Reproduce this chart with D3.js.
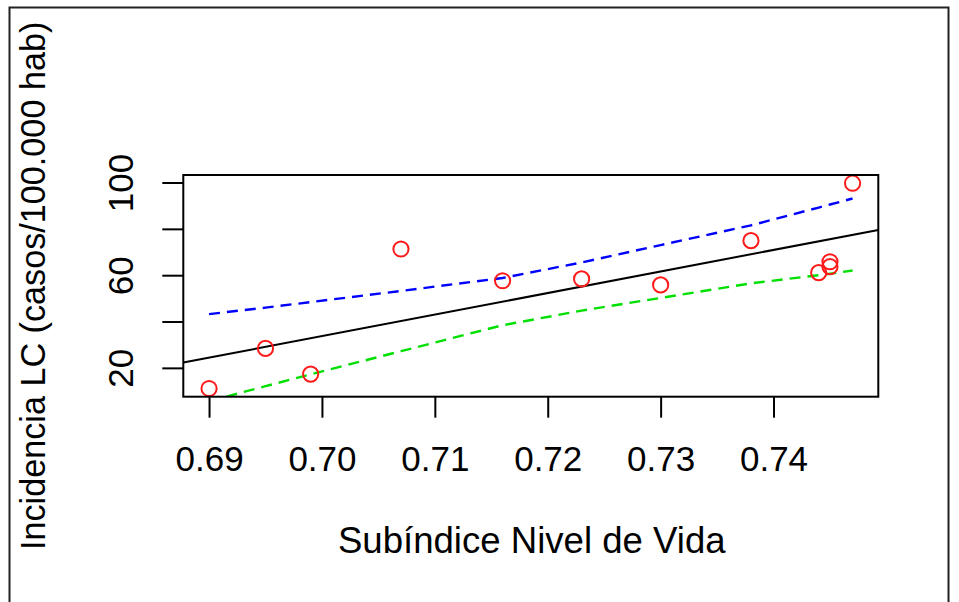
<!DOCTYPE html>
<html>
<head>
<meta charset="utf-8">
<script src="https://cdn.jsdelivr.net/npm/d3@7"></script>
<style>
  body { margin: 0; background: #fff; }
  text { font-family: "Liberation Sans", Arial, sans-serif; fill: #000; }
</style>
</head>
<body>
<div id="graphique"></div>
<script>
// --- DONNÉES ---
const subindice = [0.690, 0.695, 0.699, 0.707, 0.716, 0.723, 0.730, 0.738, 0.744, 0.745, 0.745, 0.747];
const incidencia = [11.1, 28.4, 17.3, 71.3, 57.6, 58.4, 55.8, 74.9, 61.1, 65.8, 63.7, 99.7];

// droite de régression (abline) : ordonnée à l'origine + pente
const droiteCoef = [-617.3, 930];

// bandes de confiance, aux x triés
const bandeX = [0.690, 0.695, 0.699, 0.707, 0.716, 0.723, 0.730, 0.738, 0.744, 0.745, 0.747];
const bandeHaute = [43.2, 46.0, 48.4, 53.2, 58.8, 65.5, 73.0, 81.5, 89.2, 90.5, 93.1];
const bandeBasse = [5.6, 12.1, 17.2, 27.2, 38.4, 44.7, 50.2, 56.5, 60.0, 60.6, 62.0];

const ticksX = [0.69, 0.70, 0.71, 0.72, 0.73, 0.74];
const ticksY = [20, 40, 60, 80, 100];
const labelsY = [20, 60, 100]; // R saute 40 et 80

// --- CONFIGURATION ---
const largeur = 959;
const hauteur = 602;
const zone = { gauche: 183.3, droite: 878.3, haut: 175, bas: 396.7 };

const svg = d3.select("#graphique")
    .append("svg")
    .attr("width", largeur)
    .attr("height", hauteur);

// cadre extérieur
svg.append("rect")
    .attr("x", 9.5).attr("y", 7.5)
    .attr("width", 939).attr("height", 640)
    .attr("fill", "none").attr("stroke", "#222").attr("stroke-width", 2);

// --- ÉCHELLES (étendue des données + 4 % comme R) ---
function etendue(v) {
    const [a, b] = d3.extent(v);
    const m = (b - a) * 0.04;
    return [a - m, b + m];
}
const x = d3.scaleLinear().domain(etendue(subindice)).range([zone.gauche, zone.droite]);
const y = d3.scaleLinear().domain(etendue(incidencia)).range([zone.bas, zone.haut]);

// zone de découpe pour les lignes
svg.append("clipPath").attr("id", "clip")
    .append("rect")
    .attr("x", zone.gauche).attr("y", zone.haut)
    .attr("width", zone.droite - zone.gauche).attr("height", zone.bas - zone.haut);

const traces = svg.append("g").attr("clip-path", "url(#clip)");

// droite de régression
const x0 = x.domain()[0], x1 = x.domain()[1];
traces.append("line")
    .attr("x1", x(x0)).attr("y1", y(droiteCoef[0] + droiteCoef[1] * x0))
    .attr("x2", x(x1)).attr("y2", y(droiteCoef[0] + droiteCoef[1] * x1))
    .attr("stroke", "#000").attr("stroke-width", 2);

// bandes (tirets)
const ligne = d3.line().x(d => x(d[0])).y(d => y(d[1]));
traces.append("path")
    .attr("d", ligne(d3.zip(bandeX, bandeHaute)))
    .attr("fill", "none").attr("stroke", "#0000ff")
    .attr("stroke-width", 2.4).attr("stroke-dasharray", "11,7");
traces.append("path")
    .attr("d", ligne(d3.zip(bandeX, bandeBasse)))
    .attr("fill", "none").attr("stroke", "#00e000")
    .attr("stroke-width", 2.4).attr("stroke-dasharray", "11,7");

// points
svg.append("g")
    .selectAll("circle")
    .data(d3.zip(subindice, incidencia))
    .join("circle")
    .attr("cx", d => x(d[0]))
    .attr("cy", d => y(d[1]))
    .attr("r", 7.6)
    .attr("fill", "none")
    .attr("stroke", "#ff1a1a")
    .attr("stroke-width", 2);

// --- AXES ---
const axeX = svg.append("g")
    .attr("transform", `translate(0,${zone.bas})`)
    .call(d3.axisBottom(x).tickValues(ticksX).tickFormat(d3.format(".2f")).tickSize(21).tickPadding(28));
axeX.select(".domain").remove();
axeX.selectAll("line").attr("stroke", "#000").attr("stroke-width", 2);
axeX.selectAll("text").attr("font-size", 35).style("font-family", "Liberation Sans, Arial, sans-serif");

const axeY = svg.append("g")
    .attr("transform", `translate(${zone.gauche},0)`)
    .call(d3.axisLeft(y).tickValues(ticksY).tickSize(21)
        .tickFormat(d => labelsY.includes(d) ? d : ""));
axeY.select(".domain").remove();
axeY.selectAll("line").attr("stroke", "#000").attr("stroke-width", 2);
axeY.selectAll("text")
    .attr("x", null).attr("dy", null)
    .attr("text-anchor", "middle")
    .attr("transform", "translate(-50.5,0) rotate(-90)")
    .attr("font-size", 35)
    .style("font-family", "Liberation Sans, Arial, sans-serif");

// boîte du graphique
svg.append("rect")
    .attr("x", zone.gauche).attr("y", zone.haut)
    .attr("width", zone.droite - zone.gauche).attr("height", zone.bas - zone.haut)
    .attr("fill", "none").attr("stroke", "#000").attr("stroke-width", 2);

// titres des axes
svg.append("text")
    .attr("x", (zone.gauche + zone.droite) / 2 + 1).attr("y", 553)
    .attr("text-anchor", "middle").attr("font-size", 36.6)
    .text("Subíndice Nivel de Vida");

svg.append("text")
    .attr("transform", `translate(45,${(zone.haut + zone.bas) / 2}) rotate(-90)`)
    .attr("text-anchor", "middle").attr("font-size", 34.2)
    .text("Incidencia LC (casos/100.000 hab)");
</script>
</body>
</html>
